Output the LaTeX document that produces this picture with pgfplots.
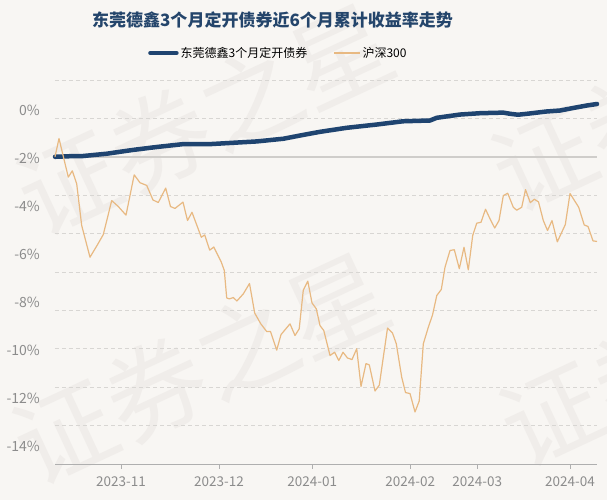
\documentclass[border=0pt]{standalone}
\usepackage{fontspec}
\setmainfont{Noto Sans CJK SC}
\usepackage{pgfplots}
\pgfplotsset{compat=1.18}
\pgfdeclarelayer{bglayer}
\pgfsetlayers{bglayer,main}
\definecolor{bg}{HTML}{F8F6F3}
\definecolor{wm}{HTML}{F0EDEA}
\definecolor{titleblue}{HTML}{24456B}
\definecolor{fundblue}{HTML}{1F4470}
\definecolor{hsorange}{HTML}{E8B982}
\definecolor{ticklab}{HTML}{8C8C8C}
\definecolor{gridc}{HTML}{D8D6D3}
\definecolor{zeroc}{HTML}{CFCDCA}
\begin{document}
\begin{tikzpicture}
\begin{axis}[
  scale only axis, width=542bp, height=384bp,
  xmin=0, xmax=542, ymin=-16, ymax=4,
  axis x line*=bottom, axis y line*=left,
  x axis line style={draw=ticklab!70, line width=0.8bp},
  y axis line style={draw=none},
  xtick={66,164,257.3,355.3,422.3,515},
  xticklabels={2023-11,2023-12,2024-01,2024-02,2024-03,2024-04},
  xtick style={draw=ticklab!70, line width=0.8bp},
  tick align=outside, major tick length=5bp,
  xticklabel style={text=ticklab, font=\fontsize{13.5bp}{15bp}\selectfont, yshift=-4.5bp},
  ytick={2.41,-0.09,-2.59,-5.07,-7.59,-10.1,-12.6,-15.09},
  yticklabels={0\%,-2\%,-4\%,-6\%,-8\%,-10\%,-12\%,-14\%},
  ytick style={draw=none},
  yticklabel style={text=ticklab, font=\fontsize{14bp}{16bp}\selectfont, anchor=east, inner sep=0pt, xshift=-10bp},
  extra y ticks={4,2,-2,-4,-6,-8,-10,-12,-14},
  extra y tick labels={},
  extra y tick style={grid=major, major grid style={draw=gridc, dash pattern=on 4bp off 3bp, line width=0.8bp}, tick style={draw=none}},
  legend columns=2,
  legend style={draw=none, fill=none, at={(rel axis cs:0.1716,1.0703)}, anchor=west, inner sep=0pt,
    font=\fontsize{12bp}{14bp}\selectfont,
    /tikz/every even column/.append style={column sep=24bp}},
  legend image code/.code={\draw[#1] (0bp,0bp) -- (26bp,0bp);},
  clip=false,
]
\coordinate (O) at (rel axis cs:0,0);
\addplot[draw=zeroc, line width=2bp, forget plot] coordinates {(0,0) (542,0)};
\addplot[draw=fundblue, line width=4.5bp, line join=round, line cap=round] coordinates {
(0,0.0) (15,0.03) (28,0.04) (51.7,0.16) (78.3,0.36) (101.7,0.51) (128.3,0.66) (155,0.66)
(178.3,0.73) (201.7,0.80) (228.3,0.94) (248.3,1.14) (265,1.30) (291.7,1.51) (321.7,1.68)
(345,1.83) (348.3,1.85) (375,1.89) (381.7,2.03) (405,2.20) (425,2.27) (448.3,2.30)
(455,2.24) (463,2.19) (472,2.24) (491.7,2.36) (505,2.41) (518,2.54) (531.7,2.67) (542,2.75)
};
\addlegendentry{东莞德鑫3个月定开债券}
\addplot[draw=hsorange, line width=1.2bp, line join=round] coordinates {
(0,0) (4,0.95) (13.3,-1.06) (17.3,-0.73) (21.7,-1.41) (26.7,-3.58) (35,-5.23) (41.7,-4.65)
(48.3,-4.05) (56.7,-2.28) (63.3,-2.59) (71,-3.04) (79.2,-0.94) (85,-1.35) (91.7,-1.49)
(98,-2.25) (103.3,-2.38) (110.7,-1.63) (115.5,-2.59) (120,-2.69) (128,-2.36) (132.5,-3.32)
(137,-2.89) (146.3,-4.19) (149.7,-4.07) (154.7,-4.86) (158.8,-4.70) (166.3,-5.49) (169.3,-5.92)
(171.7,-7.35) (174.3,-7.40) (178.3,-7.33) (181.9,-7.51) (188.3,-7.14) (194.5,-6.60) (199.7,-8.14)
(205.8,-8.70) (211.7,-9.10) (215.5,-9.10) (221.7,-10.07) (226,-9.26) (235,-8.70) (240,-9.31)
(244.2,-8.96) (248.3,-6.94) (252.8,-6.48) (257,-7.61) (261.3,-7.92) (265,-8.79) (268.8,-9.05)
(275,-10.35) (279.6,-10.18) (283.8,-10.61) (288,-10.18) (292.5,-10.48) (297,-10.56) (301.7,-10.0)
(306,-11.96) (311,-10.77) (314.3,-10.84) (320,-12.20) (324.3,-11.89) (332.5,-8.92) (337.5,-9.18)
(341.3,-9.74) (346.7,-11.48) (350.5,-12.28) (355,-12.33) (360,-13.29) (364.2,-12.72) (368.3,-9.74)
(373.3,-8.88) (377.5,-8.24) (381.8,-7.22) (386.3,-6.91) (390,-5.75) (395,-4.88) (399.3,-4.84)
(404.3,-5.83) (409,-4.71) (413.3,-5.89) (417.7,-4.10) (421.7,-3.46) (426,-3.41) (430.5,-2.73)
(435,-3.23) (439.7,-3.71) (444,-3.32) (448.3,-2.02) (452.7,-1.90) (458.3,-2.63) (461.7,-2.78)
(466.7,-2.63) (470.5,-1.71) (475.3,-2.39) (479.3,-2.21) (483.5,-2.35) (488.3,-3.32) (492.5,-3.84)
(497,-3.32) (502.3,-4.43) (510.3,-3.53) (515,-1.91) (523.7,-2.63) (529.2,-3.55) (533,-3.63)
(538,-4.38) (542,-4.41)
};
\addlegendentry{沪深300}
\end{axis}
\begin{pgfonlayer}{bglayer}
\begin{scope}[shift={(O)}, x=1bp, y=1bp]
\fill[bg] (-55,-36) rectangle (552,464);
\clip (-55,-36) rectangle (552,464);
\node[rotate=25, text=wm, font=\fontsize{100bp}{100bp}\selectfont] at (150,345) {证券之星};
\node[rotate=25, text=wm, font=\fontsize{100bp}{100bp}\selectfont] at (146,96) {证券之星};
\node[rotate=25, text=wm, font=\fontsize{100bp}{100bp}\selectfont] at (625,369) {证券之星};
\node[rotate=25, text=wm, font=\fontsize{100bp}{100bp}\selectfont] at (633,114) {证券之星};
\end{scope}
\end{pgfonlayer}
\begin{scope}[shift={(O)}, x=1bp, y=1bp]
\node[font=\bfseries\fontsize{17bp}{20bp}\selectfont, text=titleblue] at (217.5,444) {东莞德鑫3个月定开债券近6个月累计收益率走势};
\end{scope}
\end{tikzpicture}
\end{document}
